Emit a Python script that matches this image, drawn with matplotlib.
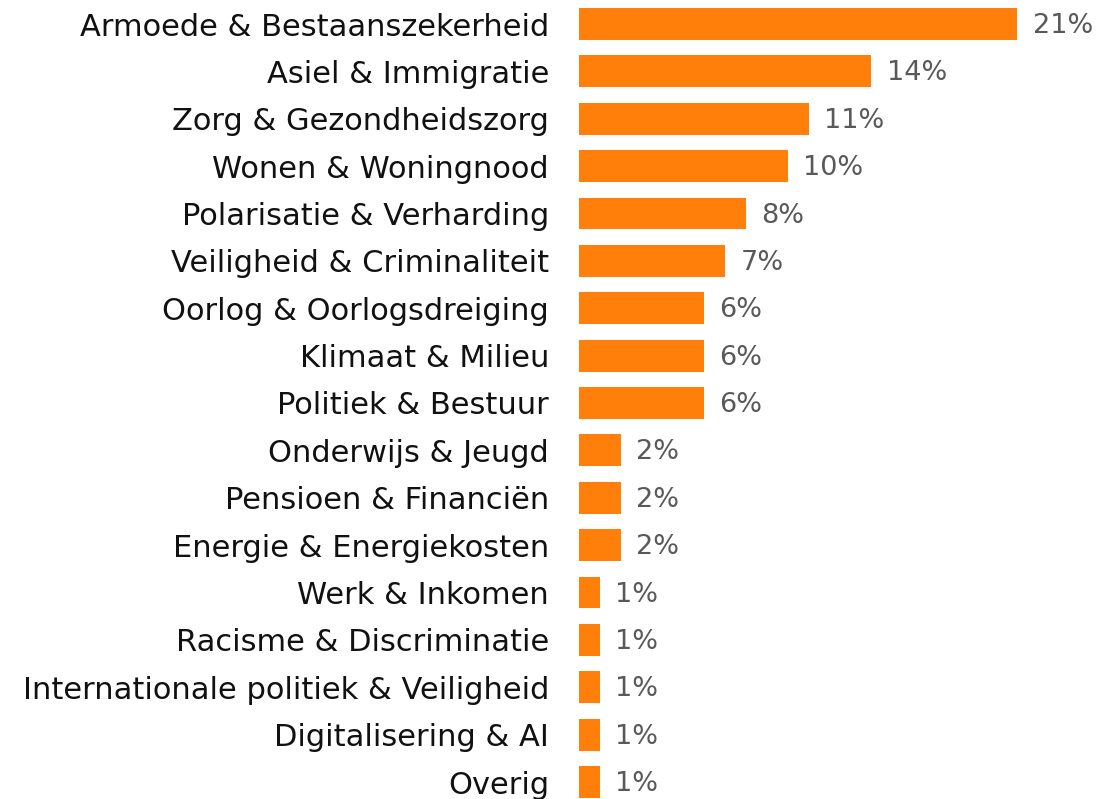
import matplotlib
matplotlib.use("Agg")
import matplotlib.pyplot as plt

categories = [
    "Armoede & Bestaanszekerheid",
    "Asiel & Immigratie",
    "Zorg & Gezondheidszorg",
    "Wonen & Woningnood",
    "Polarisatie & Verharding",
    "Veiligheid & Criminaliteit",
    "Oorlog & Oorlogsdreiging",
    "Klimaat & Milieu",
    "Politiek & Bestuur",
    "Onderwijs & Jeugd",
    "Pensioen & Financiën",
    "Energie & Energiekosten",
    "Werk & Inkomen",
    "Racisme & Discriminatie",
    "Internationale politiek & Veiligheid",
    "Digitalisering & AI",
    "Overig",
]
values = [21, 14, 11, 10, 8, 7, 6, 6, 6, 2, 2, 2, 1, 1, 1, 1, 1]
value_labels = [f"{v}%" for v in values]

W, H = 1099, 799
dpi = 100
fig = plt.figure(figsize=(W / dpi, H / dpi), dpi=dpi)
ax_left = 579 / W
ax = fig.add_axes([ax_left, 0, 1 - ax_left, 1])

bar_color = "#FF7F0A"
ypos = list(range(len(categories)))
ax.barh(ypos, values, height=0.675, color=bar_color)

row = 47.375
ax.set_ylim(16 + (H - 782) / row, -24 / row)
px_per_unit = 20.88
ax.set_xlim(0, (W - 579) / px_per_unit)

font = "DejaVu Sans"
ax.set_yticks(ypos)
ax.set_yticklabels(categories, fontsize=22, family=font, color="#111111")
ax.tick_params(axis="y", length=0, pad=21.6)
ax.set_xticks([])
for s in ax.spines.values():
    s.set_visible(False)

for y, v, lab in zip(ypos, values, value_labels):
    ax.annotate(lab, (v, y), xytext=(11, -1.5), textcoords="offset points",
                va="center", ha="left", fontsize=19.5, family=font,
                color="#595959")

fig.savefig("out.png", dpi=dpi)
